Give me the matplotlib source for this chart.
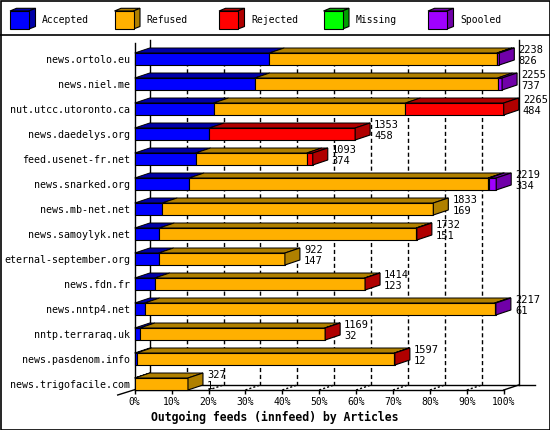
import matplotlib.pyplot as plt
from matplotlib.patches import Polygon, Rectangle

plt.rcParams['font.family'] = ['DejaVu Sans Mono']

# data (articles)
hosts = ["news.ortolo.eu", "news.niel.me", "nut.utcc.utoronto.ca", "news.daedelys.org",
         "feed.usenet-fr.net", "news.snarked.org", "news.mb-net.net", "news.samoylyk.net",
         "eternal-september.org", "news.fdn.fr", "news.nntp4.net", "nntp.terraraq.uk",
         "news.pasdenom.info", "news.trigofacile.com"]
totals   = [2238, 2255, 2265, 1353, 1093, 2219, 1833, 1732, 922, 1414, 2217, 1169, 1597, 327]
accepted = [826, 737, 484, 458, 374, 334, 169, 151, 147, 123, 61, 32, 12, 1]
refused  = [1397, 1490, 1178, 0, 682, 1835, 1664, 1576, 775, 1288, 2148, 1134, 1582, 326]
rejected = [3, 0, 603, 895, 37, 8, 0, 5, 0, 3, 0, 3, 3, 0]
missing  = [0, 0, 0, 0, 0, 0, 0, 0, 0, 0, 0, 0, 0, 0]
spooled  = [12, 28, 0, 0, 0, 42, 0, 0, 0, 0, 8, 0, 0, 0]

series_names = ["Accepted", "Refused", "Rejected", "Missing", "Spooled"]
series = [accepted, refused, rejected, missing, spooled]
colors = ['#0000ff', '#ffb000', '#ff0000', '#00ff00', '#a000ff']
darks  = ['#0000a8', '#b08000', '#b00000', '#00a000', '#7000a8']
ticks = list(range(0, 101, 10))

W, H = 550, 430
fig = plt.figure(figsize=(5.5, 4.3), dpi=100)

# background / frame / legend layer in pixel units
bg = fig.add_axes([0, 0, 1, 1])
bg.set_xlim(0, W)
bg.set_ylim(H, 0)
bg.axis('off')
bg.add_patch(Rectangle((0.5, 0.5), W - 1, H - 1, fill=False, ec='black', lw=1.2))
bg.plot([0, W], [35, 35], color='black', lw=1.2)

for k, name in enumerate(series_names):
    bx = 10 + 104.5 * k
    bg.add_patch(Polygon([(bx, 11), (bx + 19, 11), (bx + 25.5, 8.3), (bx + 6.5, 8.3)],
                         fc=darks[k], ec='black', lw=0.8))
    bg.add_patch(Polygon([(bx + 19, 11), (bx + 25.5, 8.3), (bx + 25.5, 26.5), (bx + 19, 29)],
                         fc=darks[k], ec='black', lw=0.8))
    bg.add_patch(Rectangle((bx, 11), 19, 18, fc=colors[k], ec='black', lw=0.8))
    bg.text(bx + 32, 20, name, fontsize=7, va='center', ha='left')

bg.text(275, 417, "Outgoing feeds (innfeed) by Articles", fontsize=8.3,
        fontweight='bold', ha='center', va='center')

# main plot area
x0px, x1px = 134.7, 503.7
top_px, bot_px = 40, 390
row0_px, row_step = 59, 25
ax = fig.add_axes([x0px / W, (H - bot_px) / H, (x1px - x0px) / W, (bot_px - top_px) / H])
ymax = (bot_px - row0_px) / row_step
ymin = (top_px - row0_px) / row_step
ax.set_xlim(0, 100)
ax.set_ylim(ymax, ymin)
ax.patch.set_alpha(0)

dx = 15 / ((x1px - x0px) / 100)   # depth in % units
dy = 5 / row_step                  # depth in row units
hh = 6 / row_step                  # half bar height
back = ymax - dy

# walls / floor
line_kw = dict(color='black', lw=1, clip_on=False, zorder=1)
ax.plot([dx, dx], [ymin, back], **line_kw)
ax.plot([100 + dx, 100 + dx], [ymin, back], **line_kw)
ax.plot([dx, 100 + dx + 16 / 3.69], [back, back], **line_kw)
ax.plot([100, 100 + dx], [ymax, back], **line_kw)
ax.plot([-dx * 17 / 15, dx], [ymax + dy, back], **line_kw)
for t in ticks[1:-1]:
    ax.plot([t + dx, t + dx], [-0.45, back], color='black', lw=1,
            dashes=(3, 2), clip_on=False, zorder=1)
    ax.plot([t, t + dx], [ymax, back], color='black', lw=1,
            dashes=(1.5, 1.5), clip_on=False, zorder=1)

vmax = max(totals)
for i in range(len(hosts)):
    left = 0
    last = None
    top, bot = i - hh, i + hh
    for j, s in enumerate(series):
        w = s[i] / vmax * 100
        if w <= 0:
            continue
        ax.add_patch(Polygon([(left, top), (left + w, top), (left + w + dx, top - dy),
                              (left + dx, top - dy)], fc=darks[j], ec='black',
                             lw=0.7, zorder=3, clip_on=False))
        ax.add_patch(Rectangle((left, top), w, 2 * hh, fc=colors[j], ec='black',
                               lw=0.8, zorder=4, clip_on=False))
        left += w
        last = j
    ax.add_patch(Polygon([(left, top), (left + dx, top - dy), (left + dx, bot - dy),
                          (left, bot)], fc=darks[last], ec='black', lw=0.8,
                         zorder=4, clip_on=False))
    ax.text(left + dx + 1.1, i - 0.36, str(totals[i]), fontsize=7.5,
            va='center', ha='left', zorder=5)
    ax.text(left + dx + 1.1, i + 0.08, str(accepted[i]), fontsize=7.5,
            va='center', ha='left', zorder=5)

ax.set_xticks(ticks)
ax.set_xticklabels([f"{t}%" for t in ticks], fontsize=7)
ax.set_yticks(range(len(hosts)))
ax.set_yticklabels(hosts, fontsize=7.2)
ax.tick_params(axis='x', direction='out', length=3, width=1, pad=2)
ax.tick_params(axis='y', length=0, pad=3.4)
for side in ['top', 'right']:
    ax.spines[side].set_visible(False)
ax.spines['left'].set_linewidth(1)
ax.spines['bottom'].set_linewidth(1)
ax.spines['left'].set_bounds(ymax, ymin + 0.12)

fig.savefig('out.png', dpi=100)
